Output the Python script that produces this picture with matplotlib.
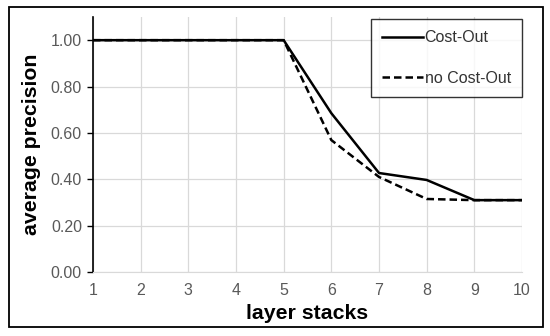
import matplotlib
matplotlib.use("Agg")
import matplotlib.pyplot as plt
from matplotlib.patches import Rectangle

layers = [1, 2, 3, 4, 5, 6, 7, 8, 9, 10]
cost_out = [1.0, 1.0, 1.0, 1.0, 1.0, 0.685, 0.427, 0.397, 0.31, 0.31]
no_cost_out = [1.0, 1.0, 1.0, 1.0, 1.0, 0.569, 0.41, 0.315, 0.31, 0.31]
yticks = [0.0, 0.2, 0.4, 0.6, 0.8, 1.0]
ytick_labels = ["0.00", "0.20", "0.40", "0.60", "0.80", "1.00"]

plt.rcParams['font.family'] = ['Liberation Sans', 'DejaVu Sans']

fig = plt.figure(figsize=(5.5, 3.36), dpi=100)
ax = fig.add_axes([93/550, 1-272/336, (522-93)/550, (272-17)/336])

grid_c = '#d9d9d9'
ax.plot(layers, cost_out, color='black', lw=1.8, label='Cost-Out', zorder=3)
ax.plot(layers, no_cost_out, color='black', lw=1.8, ls=(0, (3, 1.6)), label='no Cost-Out', zorder=3)

ax.set_xlim(1, 10)
ax.set_ylim(0, 1.1)
ax.set_xticks(layers)
ax.set_xticklabels([str(v) for v in layers])
ax.set_yticks(yticks)
ax.set_yticklabels(ytick_labels)
ax.grid(True, color=grid_c, lw=0.9, zorder=0)
for s in ['top', 'right']:
    ax.spines[s].set_visible(False)
ax.spines['bottom'].set_color(grid_c)
ax.spines['left'].set_color('black')
ax.spines['left'].set_linewidth(1.2)
ax.tick_params(axis='x', length=0, pad=8, labelsize=11.5, labelcolor='#595959')
ax.tick_params(axis='y', length=4, width=1.0, color='black', pad=4, labelsize=11.5, labelcolor='#595959')

ax.set_xlabel('layer stacks', fontsize=15.3, fontweight='bold', labelpad=4)
ax.set_ylabel('average precision', fontsize=15.3, fontweight='bold', labelpad=7)

leg = ax.legend(loc='upper right', bbox_to_anchor=(522/550, 1-19/336), bbox_transform=fig.transFigure,
                frameon=True, fancybox=False, fontsize=11.5, handlelength=2.55, handletextpad=0.1,
                labelspacing=1.6, borderpad=0.7, borderaxespad=0)
leg.get_frame().set_edgecolor('black')
leg.get_frame().set_linewidth(1.0)
for t in leg.get_texts():
    t.set_color('#333333')

fig.patches.append(Rectangle((9/550, 1-327/336), (543-9)/550, (327-7)/336,
                             transform=fig.transFigure, fill=False, edgecolor='black', lw=1.3))

fig.savefig('out.png', dpi=100)
